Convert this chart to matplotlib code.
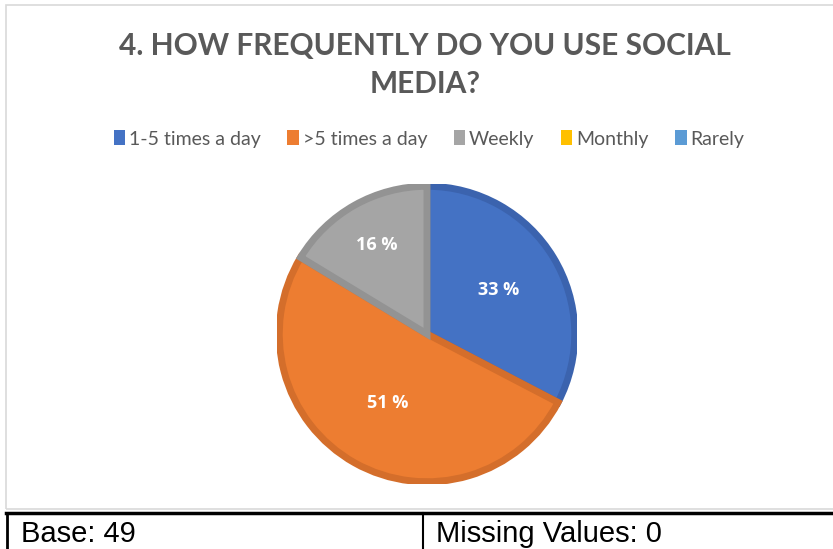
import numpy as np
import matplotlib; matplotlib.use("Agg")
import matplotlib.pyplot as plt
from matplotlib.patches import Rectangle, Wedge

# ── Data ───────────────────────────────────────────────────────────────────────
labels  = ["1-5 times a day", ">5 times a day", "Weekly", "Monthly", "Rarely"]
counts  = [16, 25, 8, 0, 0]
base    = 49
missing = 0

colors = ["#4472C4", "#ED7D31", "#A5A5A5", "#FFC000", "#5B9BD5"]
edges  = ["#3B63AE", "#D46E2B", "#939393", "#E0A800", "#4F89BF"]
lab_r  = [0.56, 0.53, 0.68, 0.6, 0.6]

W, H = 833, 549
fig = plt.figure(figsize=(W / 100, H / 100), dpi=100, facecolor="white")

def fx(px): return px / W
def fy(py): return 1 - py / H

# chart frame
fig.patches.append(Rectangle((fx(6), fy(509)), fx(840) - fx(6), fy(5) - fy(509),
                             transform=fig.transFigure, fill=False,
                             edgecolor="#D9D9D9", lw=1.2))

# title
fig.text(0.510, fy(46), "4. HOW FREQUENTLY DO YOU USE SOCIAL", ha="center", va="center",
         fontsize=21.5, fontweight="bold", color="#595959", family="Lato")
fig.text(0.510, fy(84), "MEDIA?", ha="center", va="center",
         fontsize=21.5, fontweight="bold", color="#595959", family="Lato")

# pie
cx, cy, R = 427, 334, 150
ax = fig.add_axes([fx(cx - R), fy(cy + R), 2 * R / W, 2 * R / H])
ax.set_xlim(-1, 1); ax.set_ylim(-1, 1); ax.axis("off")

fracs = np.array(counts, dtype=float) / sum(counts)
start = 90.0
for i, f in enumerate(fracs):
    if f <= 0:
        continue
    end = start - f * 360
    ax.add_patch(Wedge((0, 0), 0.985, end, start, facecolor=colors[i],
                       edgecolor=edges[i], lw=5, joinstyle="miter"))
    mid = np.deg2rad((start + end) / 2)
    ax.text(lab_r[i] * np.cos(mid), lab_r[i] * np.sin(mid), f"{round(f * 100)} %",
            ha="center", va="center", color="white", fontsize=13,
            fontweight="bold", family="Open Sans")
    start = end

# legend
handles = [Rectangle((0, 0), 1, 1, facecolor=c, edgecolor="none") for c in colors]
leg = fig.legend(handles, labels, loc="center", bbox_to_anchor=(0.515, fy(139)),
                 ncol=5, frameon=False, handlelength=0.6, handleheight=0.8,
                 handletextpad=0.2, columnspacing=1.35,
                 prop={"family": "Lato", "size": 14})
for t in leg.get_texts():
    t.set_color("#595959")

# table row below
fig.add_artist(plt.Line2D([fx(6), 1.0], [fy(513), fy(513)], color="black", lw=2.5,
                          transform=fig.transFigure))
fig.add_artist(plt.Line2D([fx(7), fx(7)], [fy(513), 0], color="black", lw=2,
                          transform=fig.transFigure))
fig.add_artist(plt.Line2D([fx(423), fx(423)], [fy(513), 0], color="black", lw=1.5,
                          transform=fig.transFigure))
fig.text(fx(21), fy(542), f"Base: {base}", ha="left", va="baseline",
         fontsize=21, family="Liberation Sans", color="black")
fig.text(fx(436), fy(542), f"Missing Values: {missing}", ha="left", va="baseline",
         fontsize=21, family="Liberation Sans", color="black")

plt.savefig("out.png", dpi=100)
plt.close()
